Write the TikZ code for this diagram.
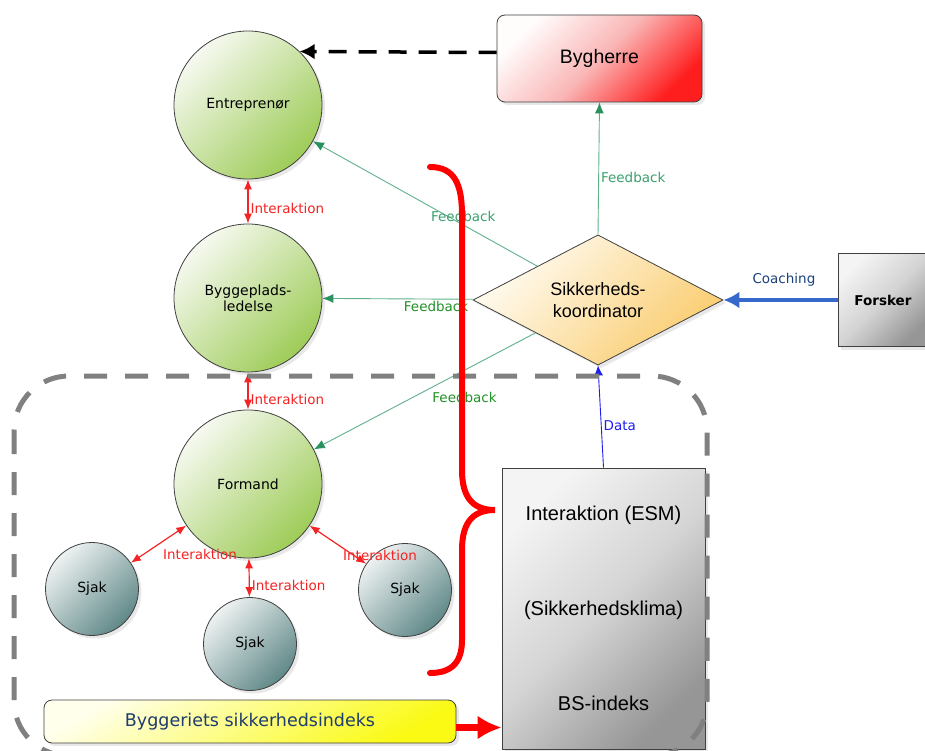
\documentclass[tikz,border=0pt]{standalone}
\usepackage{fontspec}
\setmainfont{Liberation Sans}
\newfontfamily\lblfont{DejaVu Sans}
\usetikzlibrary{arrows.meta, shapes.geometric, shadows}

\definecolor{greenTop}{RGB}{246,249,240}
\definecolor{greenBot}{RGB}{158,204,88}
\definecolor{sjakTop}{RGB}{238,242,242}
\definecolor{sjakBot}{RGB}{96,136,136}
\definecolor{redTop}{RGB}{255,252,252}
\definecolor{redMid}{RGB}{250,182,182}
\definecolor{redBot}{RGB}{255,30,30}
\definecolor{orangeTop}{RGB}{255,252,244}
\definecolor{orangeBot}{RGB}{250,204,110}
\definecolor{grayTop}{RGB}{244,244,244}
\definecolor{grayMid}{RGB}{212,212,212}
\definecolor{grayBot}{RGB}{150,150,150}
\definecolor{yellowTop}{RGB}{255,255,236}
\definecolor{yellowBot}{RGB}{250,250,20}
\definecolor{fbLine}{RGB}{95,178,138}
\definecolor{fbHead}{RGB}{40,145,95}
\definecolor{fbText}{RGB}{60,160,110}
\definecolor{fbDark}{RGB}{35,145,40}
\definecolor{iaRed}{RGB}{245,35,35}
\definecolor{dataBlue}{RGB}{30,30,240}
\definecolor{coachBlue}{RGB}{55,105,205}
\definecolor{coachText}{RGB}{25,65,125}
\definecolor{indexText}{RGB}{30,60,110}
\definecolor{frameGray}{RGB}{128,128,128}

\tikzset{
    shadowed/.style={drop shadow={opacity=0.18, shadow xshift=3pt, shadow yshift=-3pt}},
    roleNode/.style={circle, draw=black!75, line width=0.8pt, minimum size=148pt, inner sep=0pt, align=center,
        top color=greenTop, bottom color=greenBot, shading angle=45, shadowed,
        font=\lblfont\fontsize{14}{16}\selectfont},
    sjakNode/.style={roleNode, minimum size=93pt, top color=sjakTop, bottom color=sjakBot, shading angle=45},
    ownerBox/.style={rectangle, rounded corners=8pt, draw=black!75, line width=0.8pt, minimum width=205pt, minimum height=87pt,
        top color=redTop, bottom color=redBot, middle color=redMid, shading angle=45, shadowed, font=\fontsize{19.5}{23}\selectfont},
    koordNode/.style={diamond, draw=black!75, line width=0.8pt, minimum width=250pt, minimum height=125pt, inner sep=0pt,
        align=center, top color=orangeTop, bottom color=orangeBot, shading angle=45, shadowed, font=\fontsize{18}{22}\selectfont},
    grayBox/.style={rectangle, draw=black!75, line width=0.8pt, align=center,
        top color=grayTop, bottom color=grayBot, middle color=grayMid, shading angle=45, shadowed},
    indexBox/.style={rectangle, rounded corners=8pt, draw=black!75, line width=0.8pt, minimum width=412pt, minimum height=43pt,
        top color=yellowTop, bottom color=yellowBot, shading angle=30, shadowed, text=indexText,
        font=\lblfont\fontsize{17.5}{20}\selectfont},
    lbl/.style={font=\lblfont\fontsize{13.5}{16}\selectfont, inner sep=2pt},
    feedback/.style={draw=fbLine, line width=0.9pt, -{Latex[length=11pt, width=9pt, color=fbHead]}},
    interaktion/.style={draw=iaRed, line width=1.2pt, {Latex[length=10pt, width=8pt]}-{Latex[length=10pt, width=8pt]}},
    dataArrow/.style={draw=dataBlue, line width=0.9pt, -{Latex[length=10pt, width=9pt]}},
    coachArrow/.style={draw=coachBlue, line width=4.5pt, -{Latex[length=16pt, width=17pt]}},
    ownerArrow/.style={draw=black, line width=3.5pt, dash pattern=on 18pt off 12pt, -{Latex[length=15pt, width=16pt]}},
    indexArrow/.style={draw=red, line width=7pt, -{Latex[length=24pt, width=24pt]}},
    frameLine/.style={draw=frameGray, line width=5pt, dash pattern=on 23pt off 18pt, rounded corners=55pt},
    braceLine/.style={draw=red, line width=6pt, line cap=round},
}

\begin{document}
\begin{tikzpicture}[x=1pt, y=-1pt]
    \useasboundingbox (0,0) rectangle (925,751);
    \clip (0,0) rectangle (925,751);
    \fill[white] (0,0) rectangle (925,751);

    % roller paa byggepladsen
    \node[roleNode] (ent) at (248,105) {Entreprenør};
    \node[roleNode] (bpl) at (248,298) {Byggeplads-\\ledelse};
    \node[roleNode] (form) at (248,484) {Formand};
    \node[sjakNode] (sjakL) at (92,589) {Sjak};
    \node[sjakNode] (sjakM) at (250,644) {Sjak};
    \node[sjakNode] (sjakR) at (405,590) {Sjak};

    % oevrige aktoerer
    \node[ownerBox] (byg) at (599.5,58.5) {Bygherre};
    \node[koordNode] (koord) at (598,300) {Sikkerheds-\\koordinator};
    \node[grayBox, minimum width=90pt, minimum height=93pt, font=\lblfont\bfseries\fontsize{13.5}{16}\selectfont] (forsker) at (883,300) {Forsker};
    \node[grayBox, minimum width=203pt, minimum height=281pt, font=\fontsize{20}{24}\selectfont] (esm) at (603.5,608.5)
        {Interaktion (ESM)\\[71pt](Sikkerhedsklima)\\[71pt]BS-indeks};
    \node[indexBox] (bsi) at (250,721.5) {Byggeriets sikkerhedsindeks};

    % forbindelser
    \draw[ownerArrow] ([yshift=6pt]byg.west) -- (ent.46);
    \draw[feedback] (koord.north) -- node[lbl, text=fbText, pos=0.43, right] (fbByg) {Feedback} (byg.south);
    \draw[feedback] (koord) -- node[lbl, text=fbText, pos=0.33, above=1pt] (fbEnt) {Feedback} (ent);
    \draw[feedback] (koord) -- node[lbl, text=fbDark, pos=0.25, below] (fbBpl) {Feedback} (bpl);
    \draw[feedback] (koord) -- node[lbl, text=fbDark, pos=0.32, below=20pt] (fbForm) {Feedback} (form);

    \draw[interaktion] (ent) -- node[lbl, text=iaRed, pos=0.66, right] (iaEnt) {Interaktion} (bpl);
    \draw[interaktion] (bpl) -- node[lbl, text=iaRed, pos=0.72, right] (iaBpl) {Interaktion} (form);
    \draw[interaktion] (form) -- (sjakL);
    \draw[interaktion] (form) -- node[lbl, text=iaRed, pos=0.7, right] (iaM) {Interaktion} (sjakM);
    \draw[interaktion] (form) -- (sjakR);
    \node[lbl, text=iaRed] (iaL) at (200,554) {Interaktion};
    \node[lbl, text=iaRed] (iaR) at (380,555) {Interaktion};

    \draw[dataArrow] (esm.north) -- node[lbl, text=dataBlue, pos=0.41, right] (dataLbl) {Data} (koord.south);
    \draw[coachArrow] (forsker.west) -- node[lbl, text=coachText, pos=0.47, above=9pt] (coachLbl) {Coaching} (koord.east);
    \draw[indexArrow] ([yshift=-6pt]bsi.east) -- ([yshift=-6pt]bsi.east -| esm.west);

    % stiplet ramme og klamme
    \draw[frameLine] (14,376) rectangle (707,756);
    \draw[braceLine] (430,167) .. controls (455,167) and (462,185) .. (462,215) -- (462,470)
        .. controls (462,500) and (475,510) .. (495,510)
        .. controls (475,510) and (462,520) .. (462,550) -- (462,640)
        .. controls (462,662) and (452,673) .. (430,673);
\end{tikzpicture}
\end{document}
